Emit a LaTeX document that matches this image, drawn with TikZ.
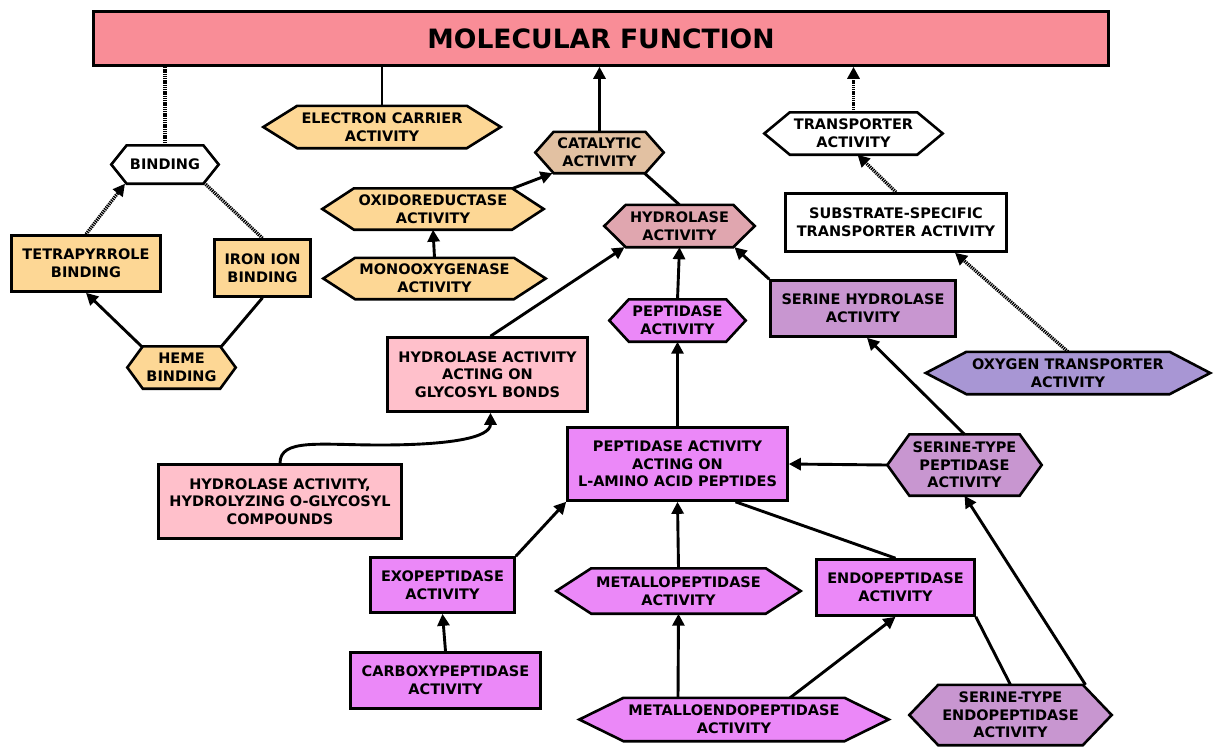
\documentclass[tikz,border=0pt]{standalone}
\usepackage{fontspec}
\setmainfont{DejaVu Sans}
\usetikzlibrary{arrows.meta, calc, backgrounds}

\definecolor{mfred}{HTML}{F98D97}
\definecolor{termorange}{HTML}{FDD795}
\definecolor{cattan}{HTML}{E2C1A2}
\definecolor{hydpink}{HTML}{E0A6AF}
\definecolor{glypink}{HTML}{FFC0CB}
\definecolor{peptviolet}{HTML}{EB88F8}
\definecolor{serpurple}{HTML}{C896D0}
\definecolor{oxypurple}{HTML}{A896D4}

\tikzset{
  every node/.style={font=\fontsize{14.5}{17.7}\selectfont\bfseries, align=center, inner sep=0pt},
  termbox/.style={rectangle, draw, line width=2.6pt},
  hexterm/.style={rectangle},
  link/.style={line width=2.9pt},
  arr/.style={link, -{Triangle[length=12pt,width=12pt]}},
  dotlink/.style={line width=3.4pt, dash pattern=on 1.3pt off 0.9pt},
  dotarr/.style={dotlink, -{Triangle[length=12pt,width=12pt]}}
}

\begin{document}
\begin{tikzpicture}[x=1pt, y=-1pt]
        \useasboundingbox (0,0) rectangle (1214,747);

        % Radice
        \node[termbox, fill=mfred, minimum width=1015pt, minimum height=54pt, font=\fontsize{26.6}{30}\selectfont\bfseries] (mf) at (601,38.5) {MOLECULAR FUNCTION};

        % Esagoni
        \node[hexterm, minimum width=237pt, minimum height=42pt] (electron) at (382,127) {ELECTRON CARRIER\\ACTIVITY};
        \node[hexterm, minimum width=107pt, minimum height=38pt] (binding) at (165,164.5) {BINDING};
        \node[hexterm, minimum width=108pt, minimum height=42pt] (heme) at (181.5,367.5) {HEME\\BINDING};
        \node[hexterm, minimum width=128pt, minimum height=41pt] (catalytic) at (599.5,152.5) {CATALYTIC\\ACTIVITY};
        \node[hexterm, minimum width=221pt, minimum height=41pt] (oxido) at (433,209) {OXIDOREDUCTASE\\ACTIVITY};
        \node[hexterm, minimum width=222pt, minimum height=41pt] (mono) at (434.5,278.5) {MONOOXYGENASE\\ACTIVITY};
        \node[hexterm, minimum width=150pt, minimum height=42pt] (hydrolase) at (679.5,226) {HYDROLASE\\ACTIVITY};
        \node[hexterm, minimum width=178pt, minimum height=42pt] (transporter) at (853.5,133.5) {TRANSPORTER\\ACTIVITY};
        \node[hexterm, minimum width=284pt, minimum height=42pt] (oxygen) at (1068,373) {OXYGEN TRANSPORTER\\ACTIVITY};
        \node[hexterm, minimum width=136pt, minimum height=42pt] (peptidase) at (677.5,320.5) {PEPTIDASE\\ACTIVITY};
        \node[hexterm, minimum width=154pt, minimum height=61pt] (serinetype) at (964.5,465) {SERINE-TYPE\\PEPTIDASE\\ACTIVITY};
        \node[hexterm, minimum width=244pt, minimum height=45pt] (metallo) at (678.5,591) {METALLOPEPTIDASE\\ACTIVITY};
        \node[hexterm, minimum width=309pt, minimum height=43pt] (metalloendo) at (734,719.5) {METALLOENDOPEPTIDASE\\ACTIVITY};
        \node[hexterm, minimum width=202pt, minimum height=60pt] (serineendo) at (1010.5,715) {SERINE-TYPE\\ENDOPEPTIDASE\\ACTIVITY};

        % Rettangoli
        \node[termbox, fill=termorange, minimum width=149pt, minimum height=56pt] (tetra) at (86,263.5) {TETRAPYRROLE\\BINDING};
        \node[termbox, fill=termorange, minimum width=96pt, minimum height=57pt] (iron) at (262.5,268) {IRON ION\\BINDING};
        \node[termbox, fill=white, minimum width=221pt, minimum height=58pt] (substrate) at (896,222.5) {SUBSTRATE-SPECIFIC\\TRANSPORTER ACTIVITY};
        \node[termbox, fill=serpurple, minimum width=185pt, minimum height=56pt] (serinehyd) at (863,308.5) {SERINE HYDROLASE\\ACTIVITY};
        \node[termbox, fill=glypink, minimum width=200pt, minimum height=74pt] (glycosyl) at (487.5,374.5) {HYDROLASE ACTIVITY\\ACTING ON\\GLYCOSYL BONDS};
        \node[termbox, fill=glypink, minimum width=243pt, minimum height=74pt] (ocompounds) at (280,501.5) {HYDROLASE ACTIVITY,\\HYDROLYZING O-GLYCOSYL\\COMPOUNDS};
        \node[termbox, fill=peptviolet, minimum width=220pt, minimum height=73pt] (lamino) at (677.5,464) {PEPTIDASE ACTIVITY\\ACTING ON\\L-AMINO ACID PEPTIDES};
        \node[termbox, fill=peptviolet, minimum width=144pt, minimum height=55pt] (exo) at (442.5,585) {EXOPEPTIDASE\\ACTIVITY};
        \node[termbox, fill=peptviolet, minimum width=190pt, minimum height=56pt] (carboxy) at (445.5,680.5) {CARBOXYPEPTIDASE\\ACTIVITY};
        \node[termbox, fill=peptviolet, minimum width=158pt, minimum height=56pt] (endo) at (895.5,587.5) {ENDOPEPTIDASE\\ACTIVITY};

        % Contorni degli esagoni
        \begin{scope}[on background layer]
          \foreach \n/\c in {electron/termorange, binding/white, heme/termorange, catalytic/cattan,
              oxido/termorange, mono/termorange, hydrolase/hydpink, transporter/white, oxygen/oxypurple,
              peptidase/peptviolet, serinetype/serpurple, metallo/peptviolet, metalloendo/peptviolet,
              serineendo/serpurple}
            \filldraw[line width=2.6pt, fill=\c] (\n.west)
              -- ($(\n.north west)!1/7!(\n.north east)$) -- ($(\n.north east)!1/7!(\n.north west)$)
              -- (\n.east)
              -- ($(\n.south east)!1/7!(\n.south west)$) -- ($(\n.south west)!1/7!(\n.south east)$)
              -- cycle;
        \end{scope}

        % Collegamenti verso la radice
        \draw[link] (electron.north) -- (electron.north |- mf.south);
        \draw[dotlink] (binding.north) -- (binding.north |- mf.south);
        \draw[arr] (catalytic.north) -- (catalytic.north |- mf.south);
        \draw[dotarr] (transporter.north) -- (transporter.north |- mf.south);

        % Binding
        \draw[dotarr] (tetra.north) -- ([xshift=-40pt]binding.south);
        \draw[dotlink] (iron.north) -- ([xshift=40pt]binding.south);
        \draw[arr] ([xshift=-40pt]heme.north) -- (tetra.south);
        \draw[link] ([xshift=40pt]heme.north) -- (iron.south);

        % Catalytic
        \draw[arr] ([xshift=80pt]oxido.north) -- ([xshift=-47pt]catalytic.south);
        \draw[arr] (mono.north) -- (oxido.south);
        \draw[link] (hydrolase.north) -- ([xshift=45pt]catalytic.south);

        % Transporter
        \draw[dotarr] (substrate.north) -- ([xshift=4pt]transporter.south);
        \draw[dotarr] (oxygen.north) -- ([xshift=59pt]substrate.south);

        % Hydrolase
        \draw[arr] (serinehyd.north west) -- ([xshift=55pt]hydrolase.south);
        \draw[arr] (peptidase.north) -- (hydrolase.south);
        \draw[arr] ([xshift=3pt]glycosyl.north) -- ([xshift=-55pt]hydrolase.south);
        \draw[arr] (ocompounds.north) .. controls +(0,-25) and +(-60,0) .. (380,445)
              .. controls +(70,0) and +(0,25) .. ([xshift=3pt]glycosyl.south);

        % Peptidase
        \draw[arr] (lamino.north) -- (peptidase.south);
        \draw[arr] (serinetype.west) -- (lamino.east);
        \draw[arr] (serinetype.north) -- ([xshift=4pt]serinehyd.south);
        \draw[arr] (exo.north east) -- (lamino.south west);
        \draw[arr] (carboxy.north) -- (exo.south);
        \draw[arr] (metallo.north) -- (lamino.south);
        \draw[link] (endo.north) -- ([xshift=58pt]lamino.south);
        \draw[arr] ([xshift=-56pt]metalloendo.north) -- (metallo.south);
        \draw[arr] ([xshift=56pt]metalloendo.north) -- (endo.south);
        \draw[link] (serineendo.north) -- (endo.south east);
        \draw[arr] ([xshift=75pt]serineendo.north) -- (serinetype.south);
      \end{tikzpicture}
\end{document}
